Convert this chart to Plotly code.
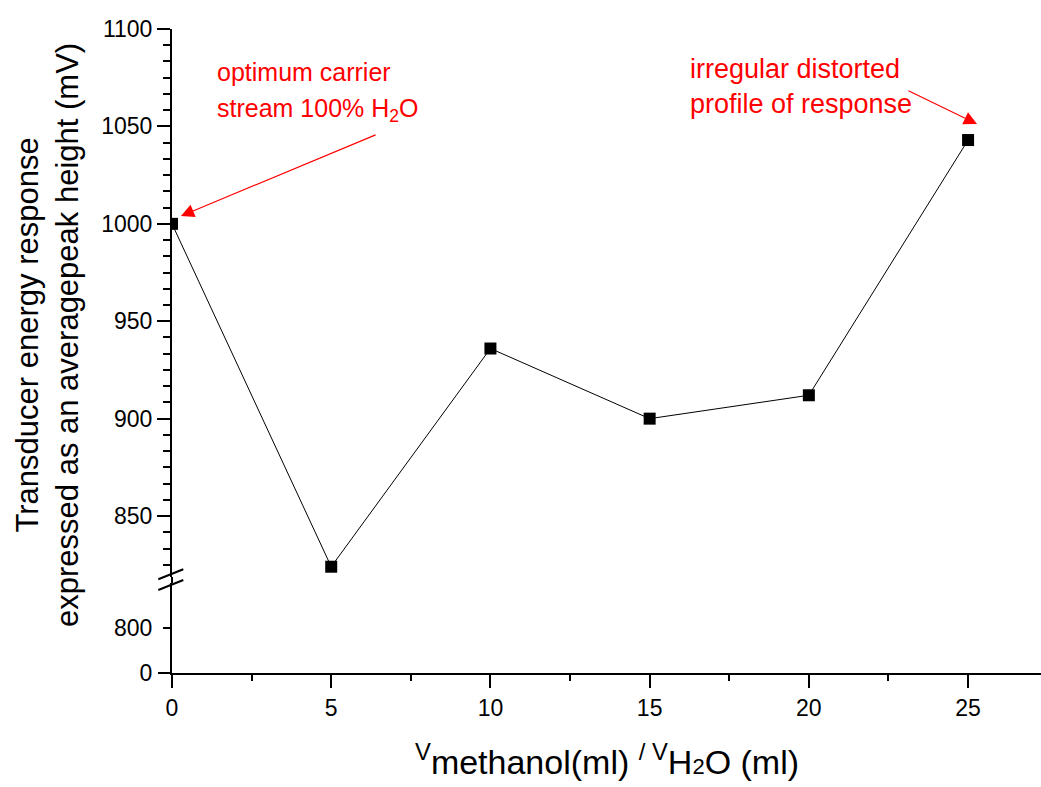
import plotly.graph_objects as go

# ---- data ----
volume_ratio = [0, 5, 10, 15, 20, 25]
peak_height_mv = [1000, 824, 936, 900, 912, 1043]

x_ticks = [0, 5, 10, 15, 20, 25]
upper_y_ticks = [850, 900, 950, 1000, 1050, 1100]
lower_y_ticks = [0, 800]

FONT = "Liberation Sans, Arial, sans-serif"
RED = "#ff0000"

fig = go.Figure()
fig.add_trace(go.Scatter(
    x=volume_ratio, y=peak_height_mv, mode="lines+markers",
    line=dict(color="black", width=1),
    marker=dict(symbol="square", size=12, color="black"),
    xaxis="x", yaxis="y", showlegend=False, cliponaxis=True,
))
# empty trace so that the lower (broken) y-axis segment is drawn
fig.add_trace(go.Scatter(x=[], y=[], xaxis="x", yaxis="y2", showlegend=False,
                         hoverinfo="skip"))

axis_common = dict(showline=True, linecolor="black", linewidth=2, showgrid=False,
                   zeroline=False, tickcolor="black", tickwidth=2,
                   tickfont=dict(family=FONT, size=23, color="black"))

fig.update_layout(
    width=1041, height=787,
    margin=dict(l=172, r=0, t=29, b=114),
    paper_bgcolor="white", plot_bgcolor="white",
    font=dict(family=FONT, color="black"),
    xaxis=dict(**axis_common, domain=[0, 1], range=[0, 27.29], anchor="y2",
               tickmode="array", tickvals=x_ticks, ticks="outside", ticklen=13,
               minor=dict(dtick=2.5, tick0=0, ticks="outside", ticklen=6,
                          tickcolor="black", tickwidth=2)),
    xaxis2=dict(showline=True, linecolor="black", linewidth=2, showgrid=False,
                zeroline=False, overlaying="x", matches="x", side="top", anchor="y",
                range=[0, 27.29], tickmode="array", tickvals=x_ticks,
                ticks="inside", ticklen=12, tickcolor="black", tickwidth=2,
                showticklabels=False,
                minor=dict(dtick=2.5, tick0=0, ticks="inside", ticklen=6,
                           tickcolor="black", tickwidth=2)),
    yaxis=dict(**axis_common, domain=[0.149, 1], range=[818.7, 1100], anchor="x",
               tickmode="array", tickvals=upper_y_ticks, ticks="outside", ticklen=13,
               minor=dict(dtick=50 / 6, tick0=850, ticks="outside", ticklen=7,
                          tickcolor="black", tickwidth=2)),
    yaxis2=dict(**axis_common, domain=[0, 0.1398], range=[0, 1600], anchor="x",
                tickmode="array", tickvals=lower_y_ticks, ticks="outside", ticklen=7,
                ticklabelstandoff=6),
)

# axis break marks and small axis extensions
def px_x(p):
    return (p - 172) / 869

def px_y(p):
    return (673 - p) / 644

shapes = [
    dict(type="line", xref="paper", yref="paper", x0=px_x(158.3), y0=px_y(579.3),
         x1=px_x(183.3), y1=px_y(569.3), line=dict(color="black", width=2)),
    dict(type="line", xref="paper", yref="paper", x0=px_x(158.3), y0=px_y(590),
         x1=px_x(183.3), y1=px_y(580), line=dict(color="black", width=2)),
    dict(type="line", xref="paper", yref="paper", x0=0, y0=0.1398, x1=0, y1=0.149,
         line=dict(color="black", width=2)),
    dict(type="line", xref="paper", yref="paper", x0=px_x(158), y0=0, x1=0, y1=0,
         line=dict(color="black", width=2)),
]
fig.update_layout(shapes=shapes)

ann = []
# Axis titles
ann.append(dict(xref="paper", yref="paper", x=0.5, y=px_y(759), xanchor="center",
                yanchor="middle", showarrow=False,
                text="<sup>V</sup>methanol(ml) <sup>/ V</sup>H<span style='font-size:22px'>2</span>O (ml)",
                font=dict(family=FONT, size=34, color="black")))
ann.append(dict(xref="paper", yref="paper", x=px_x(48), y=px_y(335), xanchor="center",
                yanchor="middle", showarrow=False, textangle=-90,
                text="Transducer energy response<br>expressed as an averagepeak height (mV)",
                font=dict(family=FONT, size=31, color="black")))
# Red notes
left_font = dict(family=FONT, size=25, color=RED)
right_font = dict(family=FONT, size=27, color=RED)
ann.append(dict(xref="x", yref="y", x=1.35, y=1100 - (72 - 29) * 0.5133,
                xanchor="left", yanchor="middle", showarrow=False,
                text="optimum carrier", font=left_font))
ann.append(dict(xref="x", yref="y", x=1.35, y=1100 - (110 - 29) * 0.5133,
                xanchor="left", yanchor="middle", showarrow=False,
                text="stream 100% H<sub>2</sub>O", font=left_font))
ann.append(dict(xref="x", yref="y", x=16.2, y=1100 - (69 - 29) * 0.5133,
                xanchor="left", yanchor="middle", showarrow=False,
                text="irregular distorted", font=right_font))
ann.append(dict(xref="x", yref="y", x=16.2, y=1100 - (104 - 29) * 0.5133,
                xanchor="left", yanchor="middle", showarrow=False,
                text="profile of response", font=right_font))
# Arrows
ann.append(dict(xref="x", yref="y", axref="x", ayref="y",
                x=0.28, y=1004, ax=6.44, ay=1046, text="", showarrow=True,
                arrowhead=2, arrowsize=2.2, arrowwidth=1.2, arrowcolor=RED))
ann.append(dict(xref="x", yref="y", axref="x", ayref="y",
                x=25.28, y=1051.2, ax=23.08, ay=1068.7, text="", showarrow=True,
                arrowhead=2, arrowsize=2.2, arrowwidth=1.2, arrowcolor=RED))
fig.update_layout(annotations=ann)

fig.write_html("out.html", config={"displayModeBar": False},
               post_script="document.body.style.margin='0';")
